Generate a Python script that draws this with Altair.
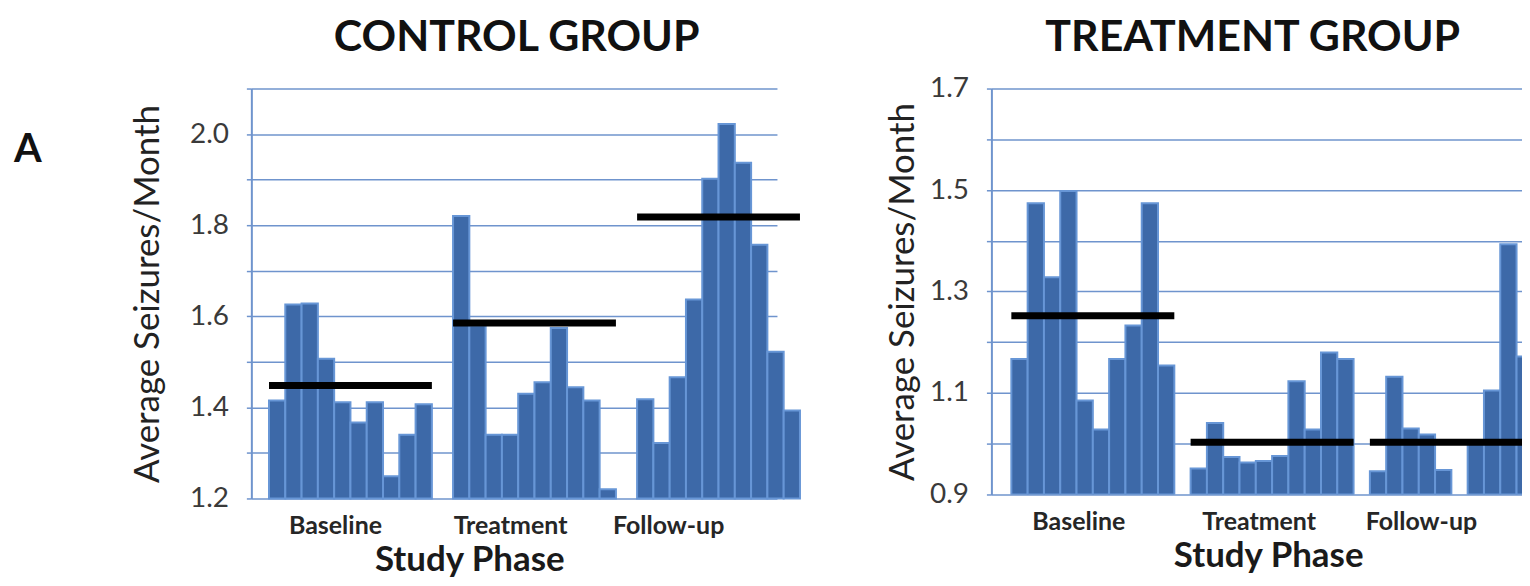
import json
import altair as alt
import pandas as pd

# ---------------- data ----------------
PHASES = ["Baseline", "Treatment", "Follow-up"]
PANEL_TITLES = ["CONTROL GROUP", "TREATMENT GROUP"]
PANEL_LETTER = ["A"]
Y_TITLE = "Average Seizures/Month"
X_TITLE = "Study Phase"

CONTROL_BASELINE = [1.415, 1.626, 1.628, 1.507, 1.411, 1.367, 1.411, 1.249, 1.340, 1.407]
CONTROL_TREATMENT = [1.820, 1.580, 1.340, 1.340, 1.430, 1.455, 1.574, 1.444, 1.415, 1.220]
CONTROL_FOLLOWUP = [1.418, 1.322, 1.466, 1.637, 1.902, 2.022, 1.937, 1.757, 1.522, 1.393]
CONTROL_MEANS = [1.448, 1.585, 1.818]

TREAT_BASELINE = [1.167, 1.474, 1.328, 1.498, 1.085, 1.028, 1.167, 1.233, 1.474, 1.154]
TREAT_TREATMENT = [0.951, 1.041, 0.974, 0.963, 0.966, 0.976, 1.123, 1.028, 1.180, 1.167]
TREAT_FOLLOWUP = [0.946, 1.132, 1.030, 1.018, 0.948, None, 1.000, 1.105, 1.393, 1.172]
TREAT_MEANS = [1.252, 1.003, 1.003]

CONTROL_GRID = [1.2, 1.3, 1.4, 1.5, 1.6, 1.7, 1.8, 1.9, 2.0, 2.1]
CONTROL_TICKS = ["1.2", "1.4", "1.6", "1.8", "2.0"]
TREAT_GRID = [0.9, 1.0, 1.1, 1.2, 1.3, 1.4, 1.5, 1.6, 1.7]
TREAT_TICKS = ["0.9", "1.1", "1.3", "1.5", "1.7"]

# ---------------- styling / layout ----------------
FONT = "Lato"
BAR_FILL = "#3d69a8"
BAR_EDGE = "#6796d6"
GRID = "#6f94cd"
NBARS = 10


def bars_frame(series, gap):
    rows = []
    for g, vals in enumerate(series):
        for i, v in enumerate(vals):
            if v is None:
                continue
            s = g * (NBARS + gap) + i
            rows.append({"phase": PHASES[g], "slot": s, "slot_end": s + 1, "value": v})
    return pd.DataFrame(rows)


def means_frame(means, gap):
    rows = []
    for g, m in enumerate(means):
        s = g * (NBARS + gap)
        rows.append({"phase": PHASES[g], "start": s, "end": s + NBARS, "mean": m})
    return pd.DataFrame(rows)


def panel(title, series, means, grid, ticks, ydom, width, height, gap, lead_px, slot_px,
          label_nudge_px, title_pad, clip, title_cx, xtitle_cx, xtitle_dy, letter=None):
    d0 = -lead_px / slot_px
    xdom = [d0, d0 + width / slot_px]
    xs = alt.Scale(domain=xdom, nice=False, zero=False)
    ys = alt.Scale(domain=ydom, nice=False, zero=False)
    label_expr = (
        "indexof(" + json.dumps(ticks) + ", format(datum.value, '.1f')) >= 0 "
        "? format(datum.value, '.1f') : ''"
    )
    yaxis = alt.Axis(
        values=grid, labelExpr=label_expr, grid=True, gridColor=GRID, gridWidth=1.5,
        domainColor=GRID, domainWidth=2, tickColor=GRID, tickSize=5, tickWidth=1.5,
        labelFont=FONT, labelFontSize=28, labelColor="#3a3a3a", labelPadding=18,
        title=Y_TITLE, titleFont=FONT, titleFontSize=35, titleFontWeight="normal",
        titleColor="#222222", titlePadding=title_pad, minExtent=60, maxExtent=60,
    )

    bars = alt.Chart(bars_frame(series, gap)).mark_bar(
        fill=BAR_FILL, stroke=BAR_EDGE, strokeWidth=2, clip=clip
    ).encode(
        x=alt.X("slot:Q", scale=xs, axis=None),
        x2="slot_end:Q",
        y=alt.Y("value:Q", scale=ys, axis=yaxis),
        y2=alt.value(height),
    )

    mean_lines = alt.Chart(means_frame(means, gap)).mark_rule(
        color="black", strokeWidth=7, clip=clip
    ).encode(
        x=alt.X("start:Q", scale=xs, axis=None),
        x2="end:Q",
        y=alt.Y("mean:Q", scale=ys, axis=yaxis),
    )

    lab = pd.DataFrame({
        "label": PHASES,
        "pos": [g * (NBARS + gap) + NBARS / 2 + label_nudge_px[g] / slot_px for g in range(3)],
    })
    phase_labels = alt.Chart(lab).mark_text(
        font=FONT, fontSize=25, fontWeight="bold", color="#262626", baseline="alphabetic"
    ).encode(
        x=alt.X("pos:Q", scale=xs, axis=None),
        y=alt.value(height + 36),
        text="label:N",
    )

    xtitle = alt.Chart(pd.DataFrame({"t": [X_TITLE]})).mark_text(
        font=FONT, fontSize=35, fontWeight="bold", color="#1a1a1a", baseline="alphabetic"
    ).encode(x=alt.value(xtitle_cx), y=alt.value(height + xtitle_dy), text="t:N")

    ttl = alt.Chart(pd.DataFrame({"t": [title]})).mark_text(
        font=FONT, fontSize=43, fontWeight="bold", color="#111111", baseline="alphabetic"
    ).encode(x=alt.value(title_cx), y=alt.value(-38), text="t:N")

    layers = [bars, mean_lines, phase_labels, xtitle, ttl]
    if letter is not None:
        lt = alt.Chart(pd.DataFrame({"t": [letter]})).mark_text(
            font=FONT, fontSize=40, fontWeight="bold", color="#111111",
            align="left", baseline="alphabetic"
        ).encode(x=alt.value(-238), y=alt.value(74), text="t:N")
        layers.append(lt)

    return alt.layer(*layers).properties(width=width, height=height)


left = panel(
    PANEL_TITLES[0], [CONTROL_BASELINE, CONTROL_TREATMENT, CONTROL_FOLLOWUP], CONTROL_MEANS,
    CONTROL_GRID, CONTROL_TICKS, [1.2, 2.1], 527, 411, gap=1.3, lead_px=17.7, slot_px=16.33,
    label_nudge_px=[-15, -24, -50], title_pad=26, clip=False,
    title_cx=266, xtitle_cx=219, xtitle_dy=73, letter=PANEL_LETTER[0],
)
right = panel(
    PANEL_TITLES[1], [TREAT_BASELINE, TREAT_TREATMENT, TREAT_FOLLOWUP], TREAT_MEANS,
    TREAT_GRID, TREAT_TICKS, [0.9, 1.7], 532, 407, gap=1.0, lead_px=20, slot_px=16.34,
    label_nudge_px=[-14, -13, -30], title_pad=11, clip=True,
    title_cx=262, xtitle_cx=278, xtitle_dy=73,
)

chart = alt.hconcat(left, right, spacing=82).properties(
    padding={"left": 6, "top": 8, "right": 0, "bottom": 0},
    background="white",
).configure_view(stroke=None)

chart.save("out.html", embed_options={"renderer": "svg", "actions": False})
